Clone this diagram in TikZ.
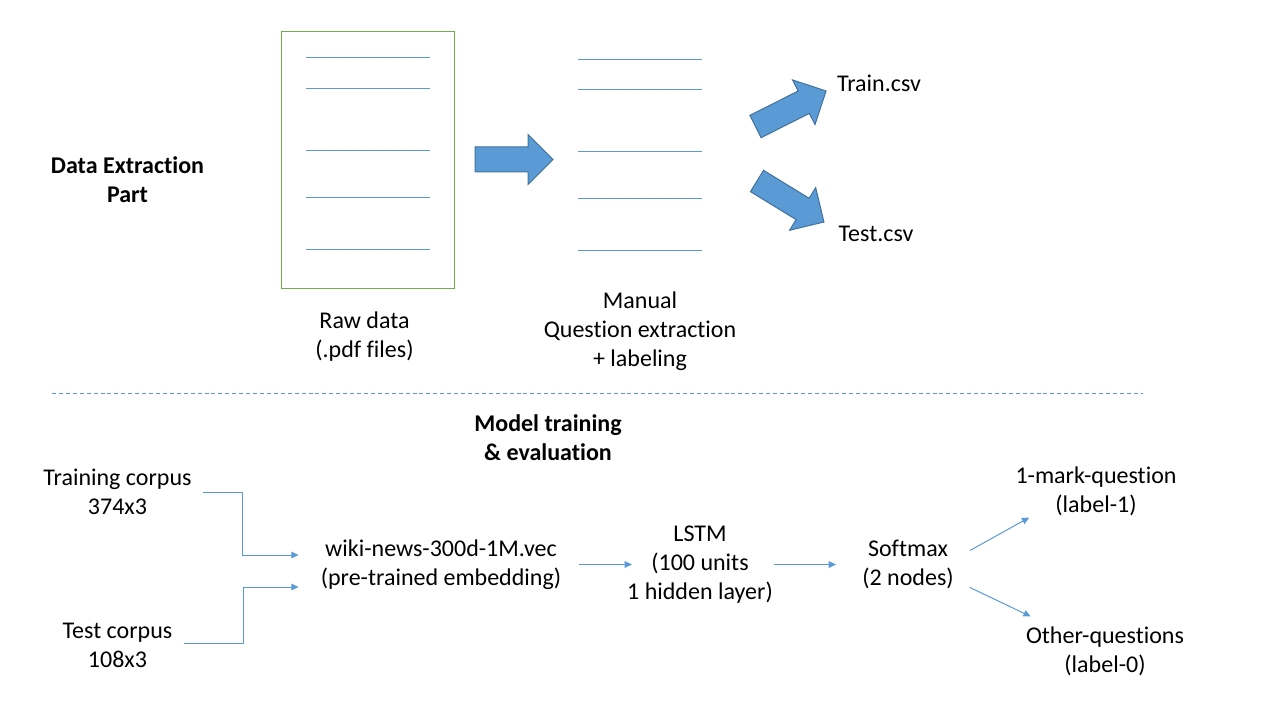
\documentclass[tikz,border=0pt]{standalone}
\usepackage{fontspec}
\setmainfont{Carlito}[Ligatures={NoCommon}]
\usetikzlibrary{arrows.meta,calc}
\definecolor{acc}{HTML}{5B9BD5}
\definecolor{accdark}{HTML}{41719C}
\definecolor{grn}{HTML}{70AD47}
\tikzset{
  txt/.style={inner sep=0pt, align=center, font=\fontsize{18pt}{21.75pt}\selectfont},
  btxt/.style={txt, font=\fontsize{18pt}{21.75pt}\selectfont\bfseries},
  conn/.style={draw=acc, line width=0.75pt, -{Triangle[length=5.5pt,width=5pt]}},
  pageline/.style={draw=acc, line width=0.75pt},
  blockarrow/.style={fill=acc, draw=accdark, line width=0.75pt, line join=miter},
  sep/.style={draw=acc, line width=0.75pt, dash pattern=on 3pt off 2.2pt}
}
\newcommand{\blkarrow}[4]{%
  \begin{scope}[shift={(#1,#2)},rotate=#3]
    \draw[blockarrow] (0,-12.5) -- ({#4-25},-12.5) -- ({#4-25},-25) -- (#4,0)
      -- ({#4-25},25) -- ({#4-25},12.5) -- (0,12.5) -- cycle;
  \end{scope}}
\begin{document}
\begin{tikzpicture}[x=0.75pt,y=-0.75pt]
\useasboundingbox (0,0) rectangle (1280,720);
% ---------- data extraction part ----------
\node[btxt] (dep) at (127.5,180) {Data Extraction\\Part};
\draw[grn, line width=0.75pt] (281,32) rectangle (454,288);
\foreach \yy in {58,89,151,198,249} \draw[pageline] (306,\yy) -- (430,\yy);
\node[txt] (raw) at (364.5,337) {Raw data\\(.pdf files)};
\blkarrow{475}{159.5}{0}{78}
\foreach \yy in {60,90,152,199,250} \draw[pageline] (578,\yy) -- (702,\yy);
\node[txt] (manual) at (640,331.5) {Manual\\Question extraction\\+ labeling};
\blkarrow{755.5}{126.5}{26.7}{79}
\blkarrow{757}{181}{-31.5}{78.5}
\node[txt] (traincsv) at (879,83) {Train.csv};
\node[txt] (testcsv) at (876,234) {Test.csv};
% ---------- separator ----------
\coordinate (sepL) at (52,393);
\coordinate (sepR) at (1143,393);
\draw[sep] (sepL) -- (sepR);
% ---------- model training ----------
\node[btxt] (model) at (548,438) {Model training\\\& evaluation};
\node[txt] (train) at (117.5,492) {Training corpus\\374x3};
\node[txt] (test) at (117.5,645.5) {Test corpus\\108x3};
\node[txt] (wiki) at (441,564.5) {wiki-news-300d-1M.vec\\(pre-trained embedding)};
\node[txt] (lstm) at (700,564.5) {LSTM\\(100 units\\1 hidden layer)};
\node[txt] (soft) at (908,564.5) {Softmax\\(2 nodes)};
\node[txt] (mark) at (1096,491.5) {1-mark-question\\(label-1)};
\node[txt] (other) at (1105,651.5) {Other-questions\\(label-0)};
% connectors
\draw[conn] ($(train.east)+(11,0)$) -| ($(train.east)+(51,0)$) |- ($(wiki.west)+(-22,-9.5)$);
\draw[conn] ($(test.east)+(11,-2)$) -| ($(test.east)+(71,-2)$) |- ($(wiki.west)+(-22,22.5)$);
\draw[conn] ($(wiki.east)+(18,0)$) -- ($(lstm.west)+(5,0)$);
\draw[conn] ($(lstm.east)+(1,0)$) -- ($(soft.west)+(-26,0)$);
\draw[conn] ($(soft.east)+(16,-14)$) -- ($(mark.west)+(14,26)$);
\draw[conn] ($(soft.east)+(16,23)$) -- ($(other.west)+(5,-35)$);
\end{tikzpicture}
\end{document}
